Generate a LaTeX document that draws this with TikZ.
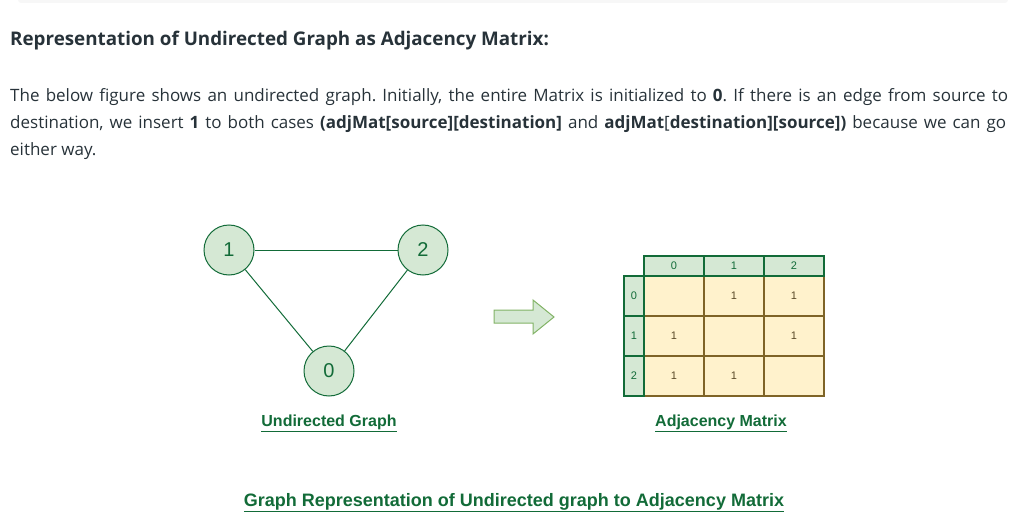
\documentclass[tikz,border=0pt]{standalone}
\usepackage{fontspec}
\setmainfont{Open Sans}
\newfontfamily\drawfont{Liberation Sans}
\frenchspacing

\definecolor{gfgGreen}{HTML}{126B38}
\definecolor{nodeFill}{HTML}{D5E8D4}
\definecolor{arrowLine}{HTML}{82B366}
\definecolor{cellFill}{HTML}{FFF2CC}
\definecolor{cellLine}{HTML}{7F6427}
\definecolor{cellText}{HTML}{5A4A28}
\definecolor{bodyText}{HTML}{273239}

\begin{document}
\begin{tikzpicture}[x=1pt, y=-1pt,
    vertex/.style={circle, draw=gfgGreen, fill=nodeFill, line width=1pt,
        minimum size=50pt, inner sep=0pt, text=gfgGreen,
        font=\drawfont\fontsize{20}{20}\selectfont},
    edge/.style={draw=gfgGreen, line width=1pt},
    hcell/.style={draw=gfgGreen, fill=nodeFill, line width=1.2pt,
        minimum width=60pt, minimum height=20pt, inner sep=0pt,
        text=gfgGreen, font=\drawfont\fontsize{11}{11}\selectfont},
    vcell/.style={hcell, minimum width=20pt, minimum height=40pt},
    mcell/.style={draw=cellLine, fill=cellFill, line width=1.2pt,
        minimum width=60pt, minimum height=40pt, inner sep=0pt,
        text=cellText, font=\drawfont\fontsize{11}{11}\selectfont},
    caption/.style={anchor=base, inner sep=0pt, text=gfgGreen,
        font=\drawfont\bfseries\fontsize{16}{16}\selectfont},
    para/.style={anchor=base west, inner sep=0pt, text=bodyText,
        font=\fontsize{17}{20}\selectfont},
    blockarrow/.style={draw=arrowLine, fill=nodeFill, line width=1pt}
]
    \useasboundingbox (0,0) rectangle (1036,519);
    \fill[black!3, rounded corners=3pt] (18,-6) rectangle (1008,3);

    % heading and text
    \node[para, font=\bfseries\fontsize{18.8}{20}\selectfont] (heading) at (10,46)
        {Representation of Undirected Graph as Adjacency Matrix:};
    \node[para] (line_a) at (10,101)
        {\makebox[998pt][s]{The below figure shows an undirected graph. Initially,
        the entire Matrix is initialized to \textbf{0}. If there is an edge from
        source to}};
    \node[para] (line_b) at (10,128)
        {\makebox[996pt][s]{destination, we insert \textbf{1} to both cases
        \textbf{(adjMat[source][destination]} and
        \textbf{adjMat}[\textbf{destination][source])} because we can go}};
    \node[para] (line_c) at (10,155) {either way.};

    % graph
    \node[vertex] (v1) at (229,250) {1};
    \node[vertex] (v2) at (423,250) {2};
    \node[vertex] (v0) at (329,371) {0};
    \draw[edge] (v1) -- (v2);
    \draw[edge] (v1) -- (v0);
    \draw[edge] (v2) -- (v0);
    \node[caption] (graph_cap) at (329,426) {\underline{Undirected Graph}};

    % arrow between the two
    \draw[blockarrow] (494,310) -- (533,310) -- (533,300) -- (554,317)
        -- (533,334) -- (533,323) -- (494,323) -- cycle;

    % adjacency matrix
    \foreach \r in {0,1,2} {
        \foreach \c in {0,1,2} {
            \node[mcell] (m\r\c) at (674+60*\c, 296+40*\r)
                {\ifnum\r=\c\else 1\fi};
        }
    }
    \foreach \c in {0,1,2} {
        \node[hcell] (col\c) at (674+60*\c, 266) {\c};
    }
    \foreach \r in {0,1,2} {
        \node[vcell] (row\r) at (634, 296+40*\r) {\r};
    }
    \node[caption] (matrix_cap) at (721,426) {\underline{Adjacency Matrix}};

    \node[caption, font=\drawfont\bfseries\fontsize{18}{18}\selectfont]
        (main_cap) at (514,506)
        {\underline{Graph Representation of Undirected graph to Adjacency Matrix}};
\end{tikzpicture}
\end{document}
